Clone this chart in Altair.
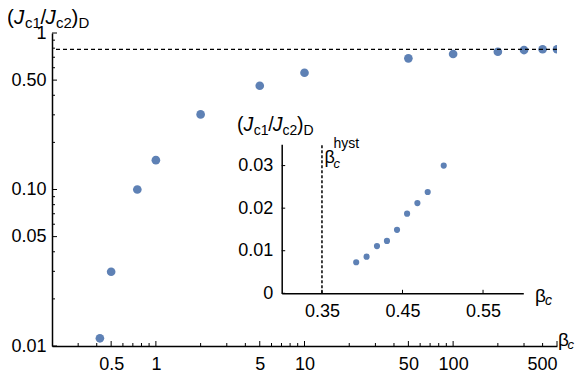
import altair as alt
import pandas as pd

# ---------------- data ----------------
beta_main = [0.42, 0.5, 0.75, 1, 2, 5, 10, 50, 100, 200, 300, 400, 500]
ratio_main = [0.0112, 0.0298, 0.100, 0.154, 0.302, 0.46, 0.557, 0.689, 0.734, 0.759, 0.778, 0.787, 0.787]
limit_ratio = [0.785]

beta_inset = [0.3925, 0.4054, 0.4183, 0.4307, 0.4432, 0.4557, 0.4685, 0.4813, 0.5012]
ratio_inset = [0.0073, 0.0086, 0.0111, 0.0123, 0.0149, 0.0187, 0.0212, 0.0238, 0.0300]
beta_hyst = [0.35]

x_major = [0.5, 1, 5, 10, 50, 100, 500]
x_minor = [0.3, 0.4, 0.6, 0.7, 0.8, 0.9, 2, 3, 4, 6, 7, 8, 9,
           20, 30, 40, 60, 70, 80, 90, 200, 300, 400]
y_major = [0.01, 0.05, 0.1, 0.5, 1]
y_minor = [0.02, 0.03, 0.04, 0.06, 0.07, 0.08, 0.09,
           0.2, 0.3, 0.4, 0.6, 0.7, 0.8, 0.9]
inset_x_ticks = [0.35, 0.45, 0.55]
inset_y_ticks = [0, 0.01, 0.02, 0.03]
inset_x_domain = [0.3, 0.6]
inset_y_domain = [0, 0.035]

# ---------------- layout ----------------
W, H = 505, 313
BLUE = "#5E81B5"
FONT = "Liberation Sans"
IX0, IX1 = 229.7, 471.3     # inset x pixel range inside the plot
IY0, IY1 = 260.3, 111.3     # inset y pixel range inside the plot

xs = alt.Scale(type="log", domain=[0.2, 500], nice=False)
ys = alt.Scale(type="log", domain=[0.01, 1], nice=False)
ixs = alt.Scale(domain=inset_x_domain, range=[IX0, IX1], nice=False, zero=False)
iys = alt.Scale(domain=inset_y_domain, range=[IY0, IY1], nice=False, zero=False)

axis_common = dict(grid=False, ticks=False, domainColor="black", domainWidth=1.5,
                   labelFont=FONT, labelFontSize=18, labelColor="black", title=None)

main_df = pd.DataFrame({"beta": beta_main, "ratio": ratio_main})

hline = alt.Chart(pd.DataFrame({"ratio": limit_ratio})).mark_rule(
    color="black", strokeDash=[4, 3], strokeWidth=1.3
).encode(y=alt.Y("ratio:Q", scale=ys, axis=None))

main_pts = alt.Chart(main_df).mark_circle(size=75, color=BLUE, opacity=1, clip=True).encode(
    x=alt.X("beta:Q", scale=xs,
            axis=alt.Axis(orient="bottom", values=x_major, format="~g", labelPadding=9,
                          **axis_common)),
    y=alt.Y("ratio:Q", scale=ys,
            axis=alt.Axis(orient="left", values=y_major, labelPadding=6,
                          labelExpr="datum.value >= 1 ? '1' : format(datum.value, '.2f')",
                          **axis_common)),
)

def xticks(vals, length):
    return alt.Chart(pd.DataFrame({"beta": vals})).mark_rule(color="black", strokeWidth=1).encode(
        x=alt.X("beta:Q", scale=xs, axis=None), y=alt.value(H), y2=alt.value(H - length))

def yticks(vals, length):
    return alt.Chart(pd.DataFrame({"ratio": vals})).mark_rule(color="black", strokeWidth=1).encode(
        y=alt.Y("ratio:Q", scale=ys, axis=None), x=alt.value(0), x2=alt.value(length))

# ---------------- inset ----------------
inset_df = pd.DataFrame({"b": beta_inset, "r": ratio_inset})

inset_pts = alt.Chart(inset_df).mark_circle(size=38, color=BLUE, opacity=1).encode(
    x=alt.X("b:Q", scale=ixs,
            axis=alt.Axis(orient="bottom", offset=-(H - IY0), values=inset_x_ticks,
                          format=".2f", labelPadding=9, **axis_common)),
    y=alt.Y("r:Q", scale=iys,
            axis=alt.Axis(orient="left", offset=-IX0, values=inset_y_ticks, labelPadding=9,
                          labelExpr="datum.value == 0 ? '0' : format(datum.value, '.2f')",
                          **axis_common)),
)

vline = alt.Chart(pd.DataFrame({"b": beta_hyst, "r0": [inset_y_domain[0]],
                                "r1": [inset_y_domain[1]]})).mark_rule(
    color="black", strokeDash=[3, 2], strokeWidth=1.5
).encode(x=alt.X("b:Q", scale=ixs, axis=None),
         y=alt.Y("r0:Q", scale=iys, axis=None), y2="r1:Q")

ixt = alt.Chart(pd.DataFrame({"b": inset_x_ticks})).mark_rule(color="black", strokeWidth=1).encode(
    x=alt.X("b:Q", scale=ixs, axis=None), y=alt.value(IY0), y2=alt.value(IY0 - 3.5))
iyt = alt.Chart(pd.DataFrame({"r": inset_y_ticks})).mark_rule(color="black", strokeWidth=1).encode(
    y=alt.Y("r:Q", scale=iys, axis=None), x=alt.value(IX0), x2=alt.value(IX0 + 3.5))

# ---------------- text labels ----------------
def txt(s, x, y, size, italic=False):
    return alt.Chart(pd.DataFrame({"t": [s]})).mark_text(
        align="left", baseline="alphabetic", font=FONT, fontSize=size,
        fontStyle="italic" if italic else "normal", color="black"
    ).encode(text="t:N", x=alt.value(x), y=alt.value(y))

def ratio_title(x0, yb, big, small, k):
    offs = [0, 7, 18, 33.5, 38.5, 49, 64.5, 71.5]
    o = [x0 + k * v for v in offs]
    ys_ = yb + 4.5 * k
    return [
        txt("(", o[0], yb, big), txt("J", o[1], yb, big, True), txt("c1", o[2], ys_, small),
        txt("/", o[3], yb, big), txt("J", o[4], yb, big, True), txt("c2", o[5], ys_, small),
        txt(")", o[6], yb, big), txt("D", o[7], ys_, small),
    ]

labels = (
    ratio_title(-45, -9.5, 20.5, 15, 1.0)
    + ratio_title(185, 98, 19.5, 14, 0.93)
    + [
        txt("β", 506, 312.5, 19), txt("c", 515.5, 316.3, 13, True),
        txt("β", 483, 268.5, 19), txt("c", 493, 272, 14, True),
        txt("β", 272.5, 130, 18), txt("c", 281.5, 135, 13, True), txt("hyst", 281.5, 115, 14),
    ]
)

chart = alt.layer(
    main_pts, hline, xticks(x_major, 5), xticks(x_minor, 3),
    yticks(y_major, 5), yticks(y_minor, 3),
    inset_pts, vline, ixt, iyt, *labels
).resolve_scale(
    x="independent", y="independent"
).properties(
    width=W, height=H,
    autosize=alt.AutoSizeParams(type="none"),
    padding={"left": 44, "top": 25, "right": 19, "bottom": 30},
).configure_view(stroke=None)

chart.save("out.html", embed_options={"renderer": "svg", "actions": False})
